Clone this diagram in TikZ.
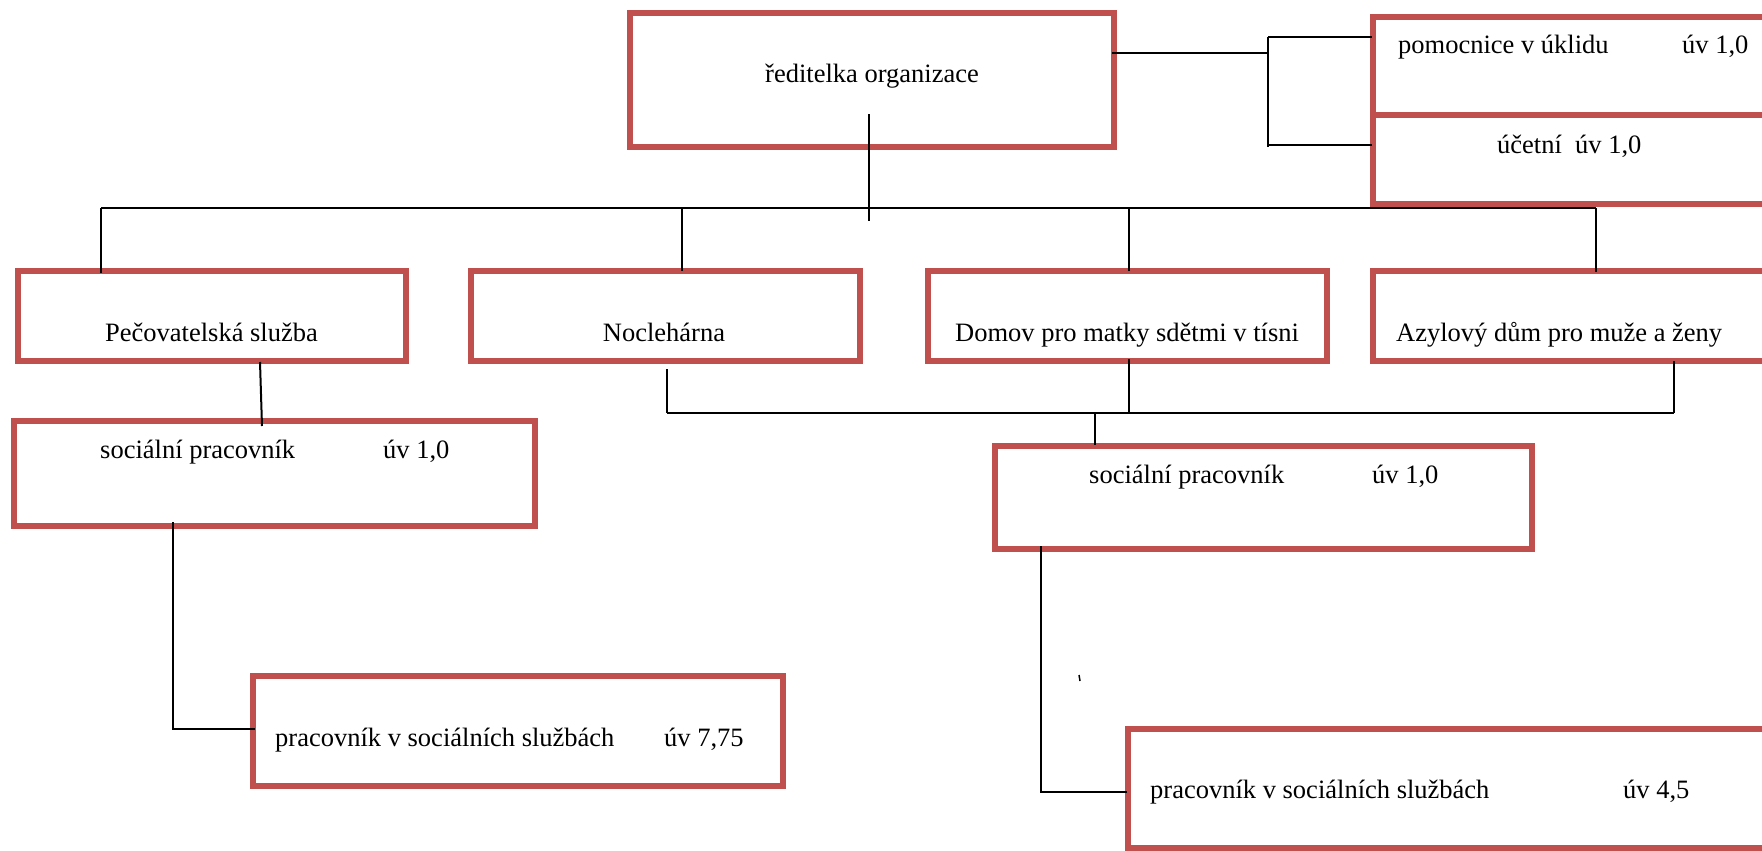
\documentclass[tikz,border=0pt]{standalone}
\usepackage{fontspec}
\setmainfont{Liberation Serif}
\definecolor{boxred}{HTML}{C0504D}
\begin{document}
\begin{tikzpicture}[x=1pt,y=-1pt,
  box/.style={draw=boxred,line width=6pt,inner sep=0pt,rectangle},
  lbl/.style={inner sep=0pt,anchor=base west,font=\fontsize{26.5}{30}\selectfont},
  conn/.style={draw=black,line width=2pt}]
\clip (0,0) rectangle (1762,851);
\fill[white] (0,0) rectangle (1762,851);
% boxes
\node[box,minimum width=484pt,minimum height=134pt] (dir) at (872,80) {};
\node[box,minimum width=399pt,minimum height=98pt] (pom) at (1572.5,66) {};
\node[box,minimum width=399pt,minimum height=89pt] (uc) at (1572.5,159.5) {};
\node[box,minimum width=388pt,minimum height=90pt] (pec) at (212,316) {};
\node[box,minimum width=389pt,minimum height=90pt] (noc) at (665.5,316) {};
\node[box,minimum width=399pt,minimum height=90pt] (dom) at (1127.5,316) {};
\node[box,minimum width=399pt,minimum height=90pt] (azy) at (1572.5,316) {};
\node[box,minimum width=521pt,minimum height=105pt] (soc1) at (274.5,473.5) {};
\node[box,minimum width=537pt,minimum height=103pt] (soc2) at (1263.5,497.5) {};
\node[box,minimum width=530pt,minimum height=110pt] (prac1) at (518,731) {};
\node[box,minimum width=644pt,minimum height=119pt] (prac2) at (1450,788.5) {};
% texts
\node[lbl,anchor=base] (tdir) at (872,82) {ředitelka organizace};
\node[lbl] (tpom) at (1398,54) {pomocnice v úklidu};
\node[lbl] (tpomuv) at (1682,54) {úv 1,0};
\node[lbl] (tuc) at (1497,153) {účetní\ \ úv 1,0};
\node[lbl] (tpec) at (105,341) {Pečovatelská služba};
\node[lbl,anchor=base] (tnoc) at (664,341) {Noclehárna};
\node[lbl] (tdom) at (955,341) {Domov pro matky sdětmi v tísni};
\node[lbl] (tazy) at (1396,341) {Azylový dům pro muže a ženy};
\node[lbl] (tsoc1) at (100,458) {sociální pracovník};
\node[lbl] (tsoc1uv) at (383,458) {úv 1,0};
\node[lbl] (tsoc2) at (1089,483) {sociální pracovník};
\node[lbl] (tsoc2uv) at (1372,483) {úv 1,0};
\node[lbl] (tprac1) at (275,746) {pracovník v sociálních službách};
\node[lbl] (tprac1uv) at (664,746) {úv 7,75};
\node[lbl] (tprac2) at (1150,798) {pracovník v sociálních službách};
\node[lbl] (tprac2uv) at (1623,798) {úv 4,5};
% connector coordinates
\coordinate (dtop) at (869,114);
\coordinate (dbot) at (869,221);
\coordinate (busL) at (101,208);
\coordinate (busN) at (682,208);
\coordinate (busD) at (1129,208);
\coordinate (busR) at (1596,208);
\coordinate (rA) at (1112,53);
\coordinate (rJ) at (1268,53);
\coordinate (rT) at (1268,37);
\coordinate (rB) at (1268,147);
\coordinate (rB2) at (1268,145);
\coordinate (lbN) at (667,413);
\coordinate (lbD) at (1129,413);
\coordinate (lbA) at (1674,413);
\coordinate (lbS) at (1095,413);
\coordinate (s1a) at (173,522);
\coordinate (s1b) at (173,729);
\coordinate (s2a) at (1041,546);
\coordinate (s2b) at (1041,792);
% connectors
\draw[conn] (dtop) -- (dbot);
\draw[conn] (busL) -- (busR);
\draw[conn] (busL) -- (101,273);
\draw[conn] (busN) -- (682,271);
\draw[conn] (busD) -- (1129,271);
\draw[conn] (busR) -- (1596,272);
\draw[conn] (rA) -- (rJ);
\draw[conn] (rT) -- (rB);
\draw[conn] (rT) -- (1372,37);
\draw[conn] (rB2) -- (1372,145);
\draw[conn] (260,362) -- (262,426);
\draw[conn] (667,369) -- (lbN);
\draw[conn] (1129,359) -- (lbD);
\draw[conn] (1674,361) -- (lbA);
\draw[conn] (lbN) -- (lbA);
\draw[conn] (lbS) -- (1095,445);
\draw[conn] (s1a) -- (s1b) -- (255,729);
\draw[conn] (s2a) -- (s2b) -- (1127,792);
\draw[line width=1.5pt] (1079,675) -- (1080,681);
\end{tikzpicture}
\end{document}
